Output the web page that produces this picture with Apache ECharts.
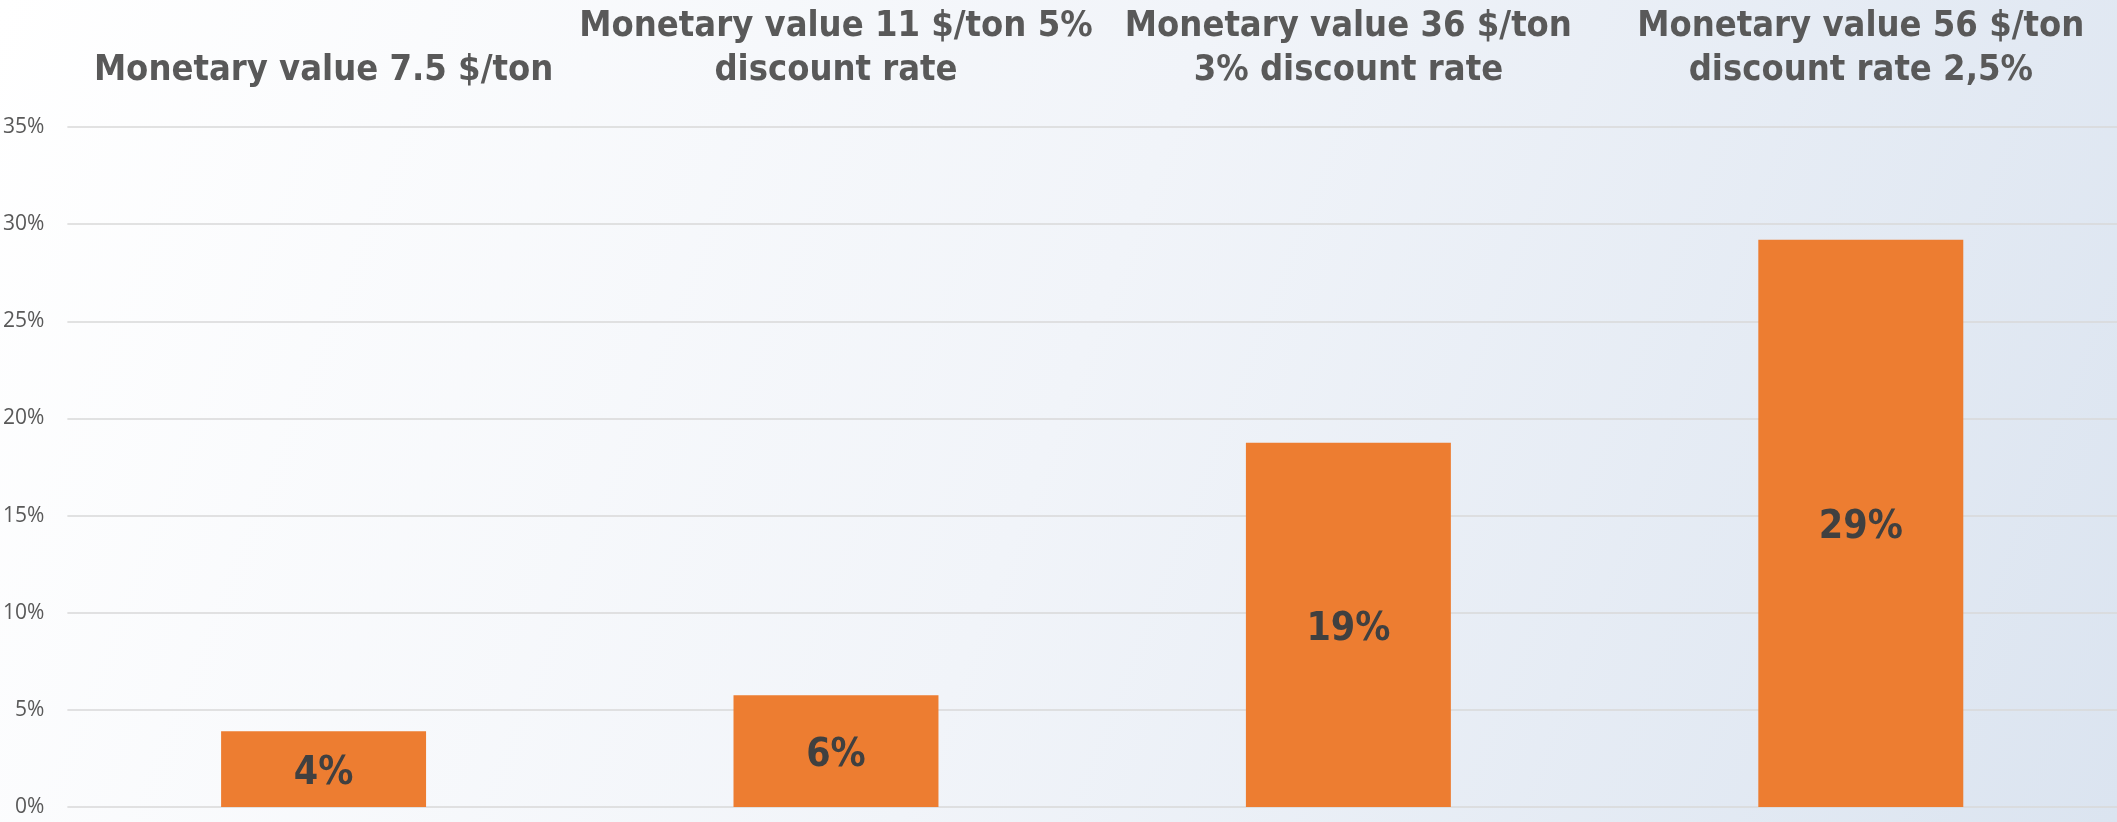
<!DOCTYPE html>
<html>
<head>
<meta charset="utf-8">
<script src="https://cdn.jsdelivr.net/npm/echarts@6/dist/echarts.min.js"></script>
<style>
html,body{margin:0;padding:0;}
#chart{width:2117px;height:822px;}
</style>
</head>
<body>
<div id="chart"></div>
<script>
const categories = [
  "Monetary value 7.5 $/ton",
  "Monetary value 11 $/ton 5%\ndiscount rate",
  "Monetary value 36 $/ton\n3% discount rate",
  "Monetary value 56 $/ton\ndiscount rate 2,5%"
];
const values = [3.9, 5.75, 18.75, 29.2];
const yTicks = { min: 0, max: 35, interval: 5 };

const titleFont = "'DejaVu Sans Condensed', 'Liberation Sans Narrow', 'DejaVu Sans', sans-serif";

const chart = echarts.init(document.getElementById('chart'), null, { renderer: 'canvas' });
chart.setOption({
  animation: false,
  backgroundColor: {
    type: 'linear', x: 0, y: 0, x2: 1, y2: 1,
    colorStops: [
      { offset: 0, color: '#ffffff' },
      { offset: 0.5, color: '#f1f4f9' },
      { offset: 1, color: '#dbe4f0' }
    ]
  },
  grid: { left: 66, right: 0, top: 127, bottom: 15, containLabel: false },
  xAxis: {
    type: 'category',
    position: 'top',
    data: categories,
    axisLine: { show: false },
    axisTick: { show: false },
    axisLabel: {
      interval: 0,
      margin: 34,
      color: '#595959',
      fontFamily: titleFont,
      fontWeight: 'bold',
      fontSize: 36,
      lineHeight: 44
    }
  },
  yAxis: {
    type: 'value',
    min: yTicks.min,
    max: yTicks.max,
    interval: yTicks.interval,
    axisLine: { show: false },
    axisTick: { show: false },
    splitLine: { lineStyle: { color: '#d9d9d9', width: 1.5 } },
    axisLabel: {
      formatter: '{value}%',
      margin: 23,
      color: '#595959',
      fontFamily: "'Open Sans', sans-serif",
      fontSize: 21
    }
  },
  series: [{
    type: 'bar',
    data: values,
    barWidth: '40%',
    itemStyle: { color: '#ed7d31' },
    label: {
      show: true,
      position: 'inside',
      offset: [0, 5],
      formatter: p => Math.round(p.value) + '%',
      color: '#404040',
      fontFamily: titleFont,
      fontWeight: 'bold',
      fontSize: 39
    }
  }]
});
</script>
</body>
</html>
